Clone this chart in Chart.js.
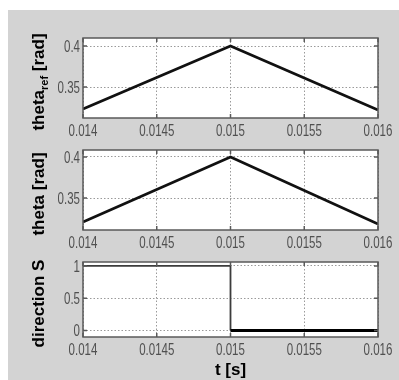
<!DOCTYPE html>
<html>
<head>
<meta charset="utf-8">
<script src="https://cdn.jsdelivr.net/npm/chart.js@4/dist/chart.umd.min.js"></script>
<style>
  html, body { margin: 0; padding: 0; background: #fff; width: 399px; height: 380px; overflow: hidden; }
  #panel { position: absolute; left: 8px; top: 10px; right: 0; bottom: 0; background: #d3d3d3; }
  canvas { position: absolute; left: 0; top: 0; }
</style>
</head>
<body>
<div id="panel"></div>
<canvas id="refPlot" width="399" height="380"></canvas>
<canvas id="thetaPlot" width="399" height="380"></canvas>
<canvas id="dirPlot" width="399" height="380"></canvas>
<script>
// Simulation traces
const timeSamples = [0.014, 0.015, 0.016];
const thetaRef = [0.3232, 0.4, 0.3220];
const theta = [0.3207, 0.4, 0.3183];
const directionTime = [0.014, 0.015, 0.015, 0.016];
const directionS = [1, 1, 0, 0];

// Axis ticks
const timeTicks = [0.014, 0.0145, 0.015, 0.0155, 0.016];
const timeTickLabels = ['0.014', '0.0145', '0.015', '0.0155', '0.016'];
const thetaTicks = [0.35, 0.4];
const thetaTickLabels = ['0.35', '0.4'];
const directionTicks = [0, 0.5, 1];
const directionTickLabels = ['0', '0.5', '1'];

const W = 399, H = 380;
const PLOT_LEFT = 83, PLOT_RIGHT = 378;
const TICK_FONT = "16px 'Liberation Sans', Arial, sans-serif";
const TICK_SQUEEZE = 0.72;   // condensed tick lettering
const TICK_COLOR = '#505050';
const TITLE_FONT = "bold 17px 'Liberation Sans', Arial, sans-serif";
const SUB_FONT = "bold 11px 'Liberation Sans', Arial, sans-serif";

function squeezedText(ctx, text, x, y, align) {
  const w = ctx.measureText(text).width * TICK_SQUEEZE;
  const left = align === 'right' ? x - w : x - w / 2;
  ctx.save();
  ctx.translate(left, y);
  ctx.scale(TICK_SQUEEZE, 1);
  ctx.textAlign = 'left';
  ctx.fillText(text, 0, 0);
  ctx.restore();
}

// White axes box, MATLAB-style frame, inward ticks, tick labels and axis titles
const framePlugin = {
  id: 'frame',
  beforeDraw(chart) {
    const { ctx, chartArea: a } = chart;
    ctx.save();
    ctx.fillStyle = '#fff';
    ctx.fillRect(a.left, a.top, a.right - a.left, a.bottom - a.top);
    ctx.restore();
  },
  afterDraw(chart, args, opts) {
    const { ctx, chartArea: a, scales } = chart;
    const xs = scales.x, ys = scales.y;
    ctx.save();
    ctx.strokeStyle = '#5a5a5a';
    ctx.lineWidth = 1.5;
    ctx.beginPath();
    xs.ticks.forEach(t => {
      const px = xs.getPixelForValue(t.value);
      ctx.moveTo(px, a.top); ctx.lineTo(px, a.top + 4);
      ctx.moveTo(px, a.bottom); ctx.lineTo(px, a.bottom - 4);
    });
    ys.ticks.forEach(t => {
      const py = ys.getPixelForValue(t.value);
      ctx.moveTo(a.left, py); ctx.lineTo(a.left + 4, py);
      ctx.moveTo(a.right, py); ctx.lineTo(a.right - 4, py);
    });
    ctx.stroke();
    ctx.strokeRect(a.left, a.top, a.right - a.left, a.bottom - a.top);

    // tick labels
    ctx.font = TICK_FONT;
    ctx.fillStyle = TICK_COLOR;
    ctx.textBaseline = 'alphabetic';
    xs.ticks.forEach((t, i) => {
      squeezedText(ctx, timeTickLabels[i], xs.getPixelForValue(t.value), a.bottom + 18, 'center');
    });
    ys.ticks.forEach((t, i) => {
      squeezedText(ctx, opts.yTickLabels[i], a.left - 3, ys.getPixelForValue(t.value) + 5.8, 'right');
    });

    // y-axis title, rotated, with optional subscript
    ctx.fillStyle = '#000';
    const parts = opts.yTitle || [];
    const fonts = parts.map(p => p.sub ? SUB_FONT : TITLE_FONT);
    let total = 0;
    const widths = parts.map((p, i) => { ctx.font = fonts[i]; const w = ctx.measureText(p.text).width; total += w; return w; });
    const cy = (a.top + a.bottom) / 2 + 4;
    ctx.translate(44, cy);
    ctx.rotate(-Math.PI / 2);
    let pos = -total / 2;
    parts.forEach((p, i) => {
      ctx.font = fonts[i];
      ctx.textAlign = 'left';
      ctx.fillText(p.text, pos, p.sub ? 4 : 0);
      pos += widths[i];
    });
    ctx.setTransform(1, 0, 0, 1, 0, 0);

    if (opts.xTitle) {
      ctx.font = TITLE_FONT;
      ctx.textAlign = 'center';
      ctx.fillText(opts.xTitle, (a.left + a.right) / 2, 375);
    }
    ctx.restore();
  }
};

function zeroPadding(s) {
  s.paddingLeft = 0; s.paddingRight = 0; s.paddingTop = 0; s.paddingBottom = 0;
}

function makePanel(id, cfg) {
  return new Chart(document.getElementById(id), {
    type: 'line',
    data: {
      datasets: [{
        data: cfg.xs.map((t, i) => ({ x: t, y: cfg.ys[i] })),
        borderColor: '#111',
        borderWidth: 2.6,
        pointRadius: 0,
        tension: 0,
        segment: cfg.segment
      }]
    },
    plugins: [framePlugin],
    options: {
      responsive: false,
      animation: false,
      devicePixelRatio: 1,
      layout: { padding: { left: 0, right: W - PLOT_RIGHT, top: cfg.top, bottom: H - cfg.bottom - 20 } },
      plugins: {
        legend: { display: false },
        tooltip: { enabled: false },
        frame: { yTitle: cfg.yTitle, xTitle: cfg.xTitle, yTickLabels: cfg.yTickLabels }
      },
      scales: {
        x: {
          type: 'linear',
          min: 0.014, max: 0.016,
          afterBuildTicks: s => { s.ticks = timeTicks.map(v => ({ value: v })); },
          afterFit: s => { s.height = 20; zeroPadding(s); },
          ticks: { display: false, autoSkip: false },
          grid: { color: '#9a9a9a', lineWidth: 1, drawTicks: false },
          border: { display: false, dash: [1.5, 2] }
        },
        y: {
          type: 'linear',
          position: 'left',
          min: cfg.yMin, max: cfg.yMax,
          afterBuildTicks: s => { s.ticks = cfg.yTicks.map(v => ({ value: v })); },
          afterFit: s => { s.width = PLOT_LEFT; zeroPadding(s); },
          ticks: { display: false, autoSkip: false },
          grid: { color: '#9a9a9a', lineWidth: 1, drawTicks: false },
          border: { display: false, dash: [1.5, 2] }
        }
      }
    }
  });
}

makePanel('refPlot', {
  xs: timeSamples, ys: thetaRef,
  top: 38, bottom: 118,
  yMin: 0.3122, yMax: 0.4098,
  yTicks: thetaTicks, yTickLabels: thetaTickLabels,
  yTitle: [{ text: 'theta' }, { text: 'ref', sub: true }, { text: ' [rad]' }]
});

makePanel('thetaPlot', {
  xs: timeSamples, ys: theta,
  top: 150, bottom: 230,
  yMin: 0.311, yMax: 0.4085,
  yTicks: thetaTicks, yTickLabels: thetaTickLabels,
  yTitle: [{ text: 'theta [rad]' }]
});

const isLow = c => c.p0.parsed.y === 0 && c.p1.parsed.y === 0;
makePanel('dirPlot', {
  xs: directionTime, ys: directionS,
  top: 262, bottom: 337,
  yMin: -0.1, yMax: 1.06,
  yTicks: directionTicks, yTickLabels: directionTickLabels,
  yTitle: [{ text: 'direction S' }],
  xTitle: 't [s]',
  segment: {
    borderColor: c => isLow(c) ? '#000' : '#3c3c3c',
    borderWidth: c => isLow(c) ? 3 : 1.8
  }
});
</script>
</body>
</html>
